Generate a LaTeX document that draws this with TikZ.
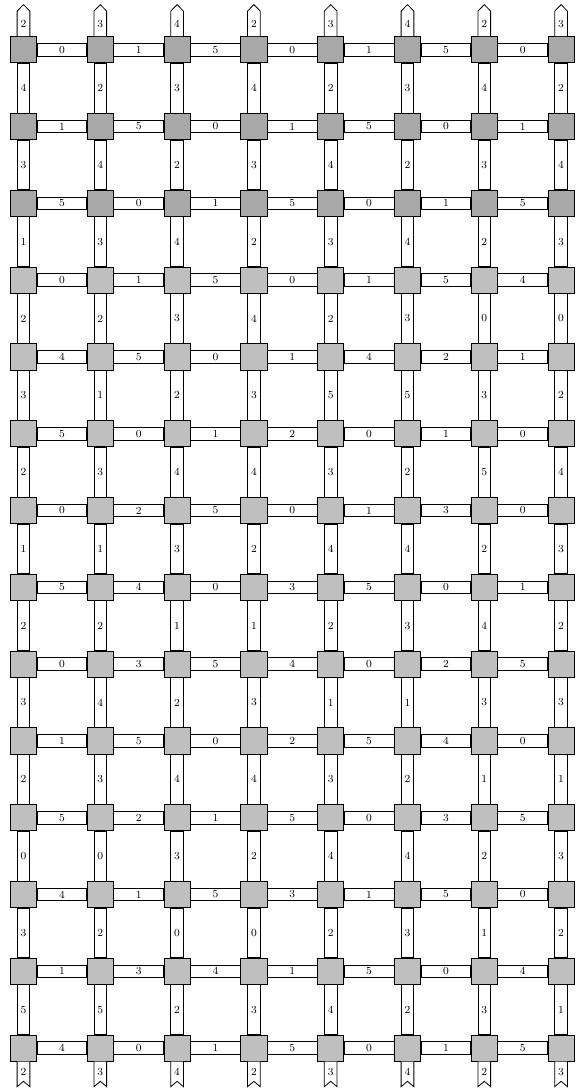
\documentclass[tikz,border=0pt]{standalone}
\usepackage{xcolor}
\usepackage{tikz}
\usetikzlibrary{positioning, calc, backgrounds}
\definecolor{meshdark}{gray}{0.66}
\definecolor{meshlight}{gray}{0.75}
\tikzset{
  meshnode/.style={
    draw, semithick, rectangle, minimum size=0.68cm, inner sep=0pt
  },
  meshbar/.style={
    semithick, fill=white
  },
  meshstub/.style={
    semithick, fill=white
  },
  meshlabel/.style={
    font=\footnotesize, inner sep=0pt
  },
}

\begin{document}
\begin{tikzpicture}
  \useasboundingbox (-0.612,1.294) rectangle (14.44,-27.04);

  % Cells: first three rows darker
  \foreach \r in {0,1,2}
    \foreach \c in {0,...,7}
      \node[meshnode, fill=meshdark] (n-\r-\c) at (2*\c,-2*\r) {};
  \foreach \r in {3,...,13}
    \foreach \c in {0,...,7}
      \node[meshnode, fill=meshlight] (n-\r-\c) at (2*\c,-2*\r) {};

  \begin{scope}[on background layer]
  % Horizontal bars, one list per row
  \foreach \r/\hl in {
      0/{0,1,5,0,1,5,0}, 1/{1,5,0,1,5,0,1}, 2/{5,0,1,5,0,1,5},
      3/{0,1,5,0,1,5,4}, 4/{4,5,0,1,4,2,1}, 5/{5,0,1,2,0,1,0},
      6/{0,2,5,0,1,3,0}, 7/{5,4,0,3,5,0,1}, 8/{0,3,5,4,0,2,5},
      9/{1,5,0,2,5,4,0}, 10/{5,2,1,5,0,3,5}, 11/{4,1,5,3,1,5,0},
      12/{1,3,4,1,5,0,4}, 13/{4,0,1,5,0,1,5}}
    \foreach \t [count=\c from 0] in \hl {
      \pgfmathtruncatemacro{\d}{\c+1}
      \draw[meshbar] ($(n-\r-\c.east)+(0,0.1655)$)
        rectangle ($(n-\r-\d.west)+(0,-0.1655)$);
      \node[meshlabel] (h-\r-\c) at ($(n-\r-\c)!0.5!(n-\r-\d)$) {\t};
    }

  % Vertical bars, one list per gap between rows
  \foreach \r/\vl in {
      0/{4,2,3,4,2,3,4,2}, 1/{3,4,2,3,4,2,3,4}, 2/{1,3,4,2,3,4,2,3},
      3/{2,2,3,4,2,3,0,0}, 4/{3,1,2,3,5,5,3,2}, 5/{2,3,4,4,3,2,5,4},
      6/{1,1,3,2,4,4,2,3}, 7/{2,2,1,1,2,3,4,2}, 8/{3,4,2,3,1,1,3,3},
      9/{2,3,4,4,3,2,1,1}, 10/{0,0,3,2,4,4,2,3}, 11/{3,2,0,0,2,3,1,2},
      12/{5,5,2,3,4,2,3,1}}
    \foreach \t [count=\c from 0] in \vl {
      \pgfmathtruncatemacro{\s}{\r+1}
      \draw[meshbar] ($(n-\r-\c.south)+(-0.1655,0)$)
        rectangle ($(n-\s-\c.north)+(0.1655,0)$);
      \node[meshlabel] (v-\r-\c) at ($(n-\r-\c)!0.5!(n-\s-\c)$) {\t};
    }
  \end{scope}

  % Inputs on top
  \foreach \t [count=\c from 0] in {2,3,4,2,3,4,2,3} {
    \draw[meshstub] ($(n-0-\c.north)+(-0.1655,0)$) -- ++(0,0.654)
      -- ++(0.1655,0.17) -- ++(0.1655,-0.17) -- ++(0,-0.654);
    \node[meshlabel] (top-\c) at ($(n-0-\c.north)+(0,0.32)$) {\t};
  }

  % Outputs at the bottom
  \foreach \t [count=\c from 0] in {2,3,4,2,3,4,2,3} {
    \draw[meshstub] ($(n-13-\c.south)+(-0.1655,0)$) -- ++(0,-0.655)
      -- ++(0.1655,0.14) -- ++(0.1655,-0.14) -- ++(0,0.655);
    \node[meshlabel] (bot-\c) at ($(n-13-\c.south)+(0,-0.28)$) {\t};
  }
\end{tikzpicture}
\end{document}
